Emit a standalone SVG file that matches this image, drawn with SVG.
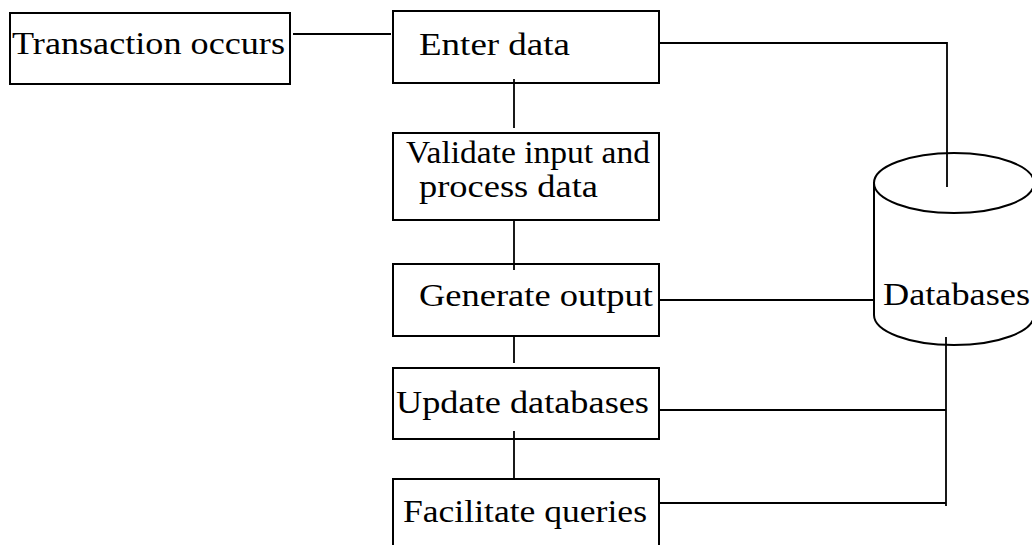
<svg xmlns="http://www.w3.org/2000/svg" width="1032" height="545" viewBox="0 0 1032 545">
<style>
.box{fill:#fff;stroke:#000;stroke-width:2}
.ln{fill:none;stroke:#000;stroke-width:1.8}
text{font-family:"Liberation Serif","Times New Roman",serif;font-size:31px;fill:#000}
</style>
<rect width="1032" height="545" fill="#fff"/>
<g id="transaction">
<rect class="box" x="10" y="13" width="280" height="71"/>
<text x="12" y="54" textLength="273" lengthAdjust="spacingAndGlyphs">Transaction occurs</text>
</g>
<g id="enter">
<rect class="box" x="393" y="11" width="266" height="72"/>
<text x="419" y="55" textLength="151" lengthAdjust="spacingAndGlyphs">Enter data</text>
</g>
<g id="validate">
<rect class="box" x="393" y="133" width="266" height="87"/>
<text x="406" y="163" textLength="244" lengthAdjust="spacingAndGlyphs">Validate input and</text>
<text x="419" y="197" textLength="179" lengthAdjust="spacingAndGlyphs">process data</text>
</g>
<g id="generate">
<rect class="box" x="393" y="264" width="266" height="72"/>
<text x="419" y="306" textLength="234" lengthAdjust="spacingAndGlyphs">Generate output</text>
</g>
<g id="update">
<rect class="box" x="393" y="368" width="266" height="71"/>
<text x="396" y="413" textLength="253" lengthAdjust="spacingAndGlyphs">Update databases</text>
</g>
<g id="facilitate">
<rect class="box" x="393" y="479" width="266" height="80"/>
<text x="403" y="522" textLength="244" lengthAdjust="spacingAndGlyphs">Facilitate queries</text>
</g>
<g id="databases">
<path class="box" d="M874,183 L874,315 A80,30 0 0 0 1034,315 L1034,183 Z"/>
<ellipse class="box" cx="954" cy="183" rx="80" ry="30"/>
<text x="883" y="305" textLength="147" lengthAdjust="spacingAndGlyphs">Databases</text>
</g>
<g id="connectors">
<line class="ln" x1="293" y1="34" x2="391" y2="34"/>
<line class="ln" x1="514" y1="79" x2="514" y2="128"/>
<line class="ln" x1="514" y1="220" x2="514" y2="270"/>
<line class="ln" x1="514" y1="337" x2="514" y2="363"/>
<line class="ln" x1="514" y1="431" x2="514" y2="479"/>
<polyline class="ln" points="658,43 947,43 947,187"/>
<line class="ln" x1="658" y1="300" x2="874" y2="300"/>
<line class="ln" x1="946" y1="337" x2="946" y2="506"/>
<line class="ln" x1="658" y1="410" x2="946" y2="410"/>
<line class="ln" x1="658" y1="503" x2="946" y2="503"/>
</g>
</svg>
